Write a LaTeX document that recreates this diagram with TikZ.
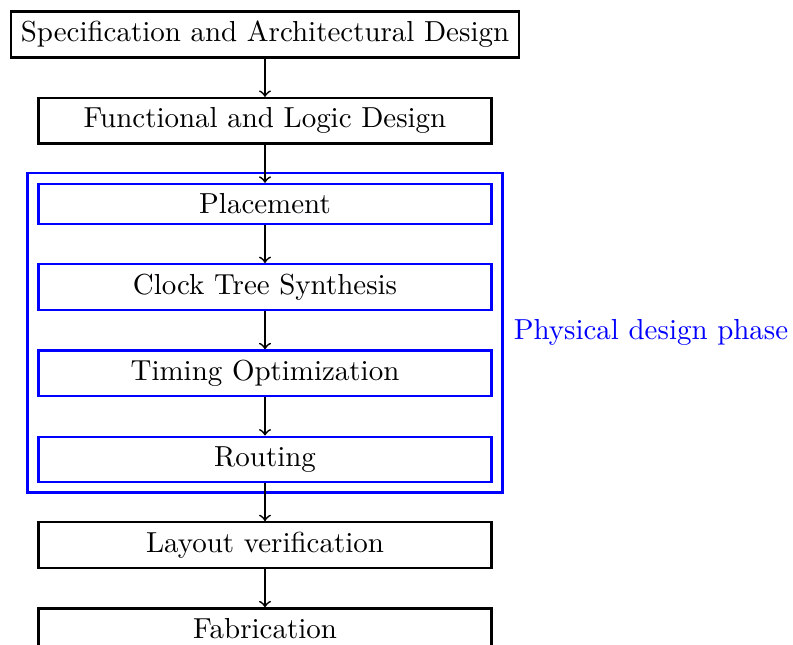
\documentclass[tikz,border=0pt]{standalone}
\usetikzlibrary{positioning,fit}
\begin{document}
\begin{tikzpicture}[
  node distance=13.2pt,
  plainbox/.style={draw=black, thick, minimum width=5.5cm},
  physbox/.style={draw=blue, thick, minimum width=5.5cm},
  flow/.style={->, semithick}
]
\useasboundingbox (-91.5pt,11.9pt) rectangle (182.3pt,-210.8pt);
\node[draw=black, thick] (spec) at (0,0) {Specification and Architectural Design};
\node[plainbox, below=of spec] (func) {Functional and Logic Design};
\node[physbox, below=of func] (place) {Placement};
\node[physbox, below=of place] (cts) {Clock Tree Synthesis};
\node[physbox, below=of cts] (timing) {Timing Optimization};
\node[physbox, below=of timing] (route) {Routing};
\node[plainbox, below=of route] (layout) {Layout verification};
\node[plainbox, below=of layout] (fab) {Fabrication};
\node[draw=blue, thick, fit=(place)(route)] (phys) {};
\node[right, text=blue] (physlabel) at (phys.east) {Physical design phase};
\draw[flow] (spec) -- (func);
\draw[flow] (func) -- (place);
\draw[flow] (place) -- (cts);
\draw[flow] (cts) -- (timing);
\draw[flow] (timing) -- (route);
\draw[flow] (route) -- (layout);
\draw[flow] (layout) -- (fab);
\end{tikzpicture}
\end{document}
